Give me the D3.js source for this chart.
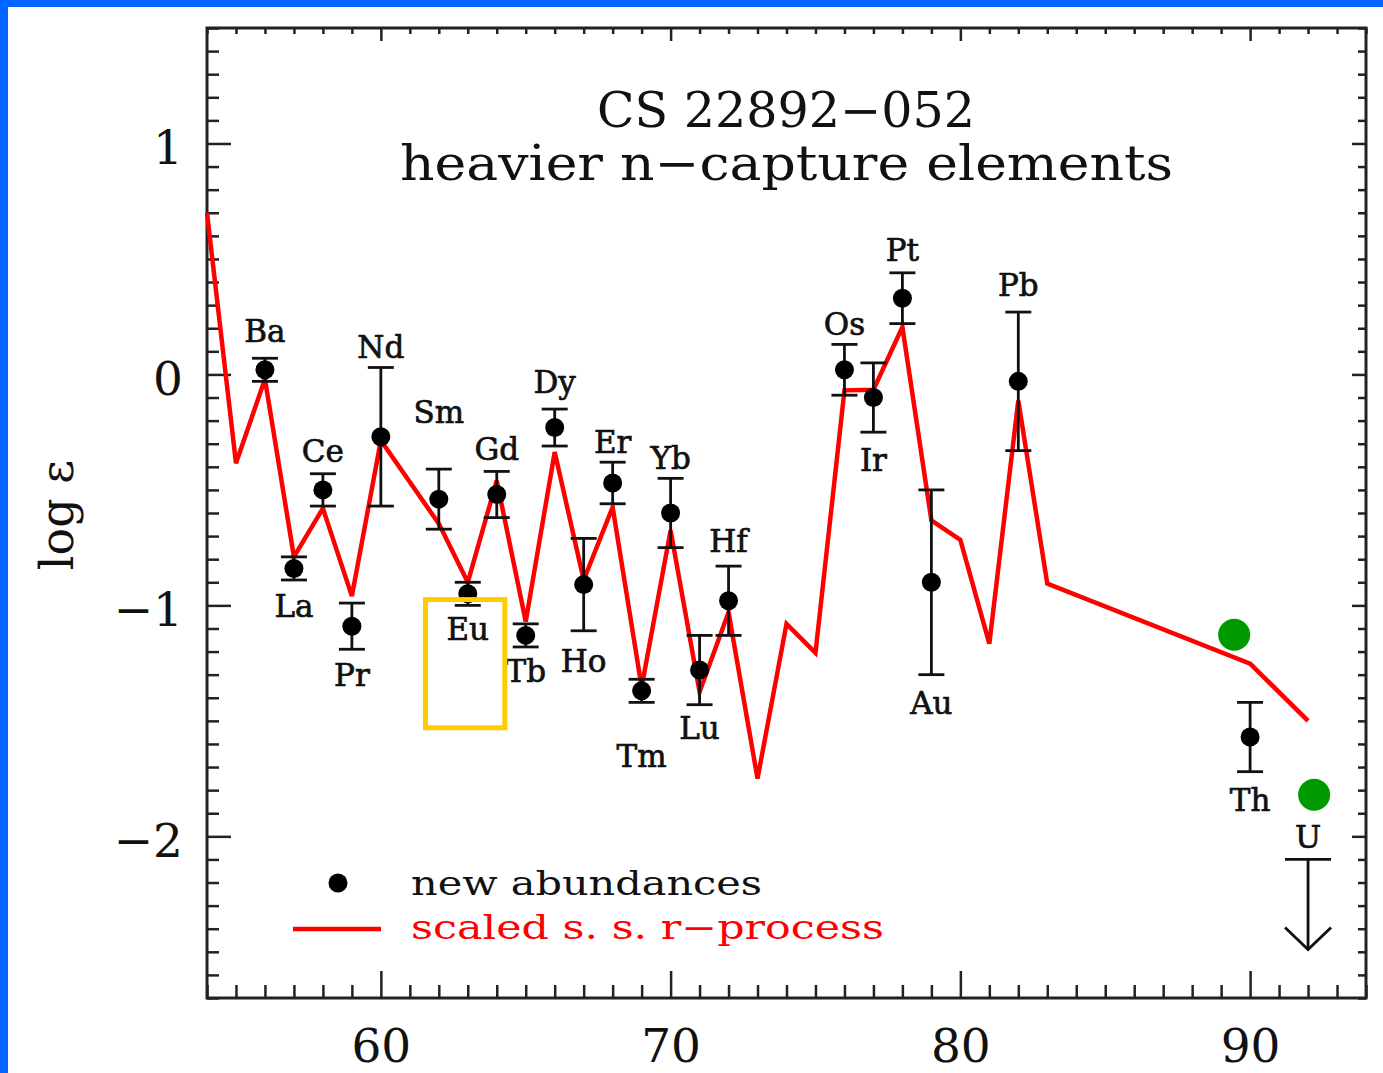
<!DOCTYPE html>
<html>
  <meta charset="utf-8">
  <head>
    <title>CS 22892-052 heavier n-capture elements</title>
  </head>
  <style>
    body { margin: 0; background: #fff; }
    svg { display: block; }
    .tick line { stroke: #222; stroke-width: 2.5; }
    .tick text { font-family: "DejaVu Serif", serif; fill: #111; }
    .frame { fill: none; stroke: #222; stroke-width: 3; }
    .elab { font-family: "DejaVu Serif", serif; font-size: 31px; fill: #111; stroke: #111; stroke-width: 0.7; text-anchor: middle; }
    .err { stroke: #111; stroke-width: 2.8; fill: none; }
  </style>
  <script src="https://d3js.org/d3.v7.min.js"></script>
  <body>
    <svg width="1383" height="1073"></svg>
    <script>
      // measured abundances (atomic number, log eps, error)
      var elemNames = ["Ba","La","Ce","Pr","Nd","Sm","Eu","Gd","Tb","Dy","Ho","Er","Tm","Yb","Lu","Hf","Os","Ir","Pt","Au","Pb","Th"];
      var elemZ     = [56, 57, 58, 59, 60, 62, 63, 64, 65, 66, 67, 68, 69, 70, 71, 72, 76, 77, 78, 79, 82, 90];
      var abund     = [0.02, -0.84, -0.50, -1.09, -0.27, -0.54, -0.95, -0.52, -1.13, -0.23, -0.91, -0.47, -1.37, -0.60, -1.28, -0.98, 0.02, -0.10, 0.33, -0.90, -0.03, -1.57];
      var abundErr  = [0.05, 0.05, 0.07, 0.10, 0.30, 0.13, 0.05, 0.10, 0.05, 0.08, 0.20, 0.09, 0.05, 0.15, 0.15, 0.15, 0.11, 0.15, 0.11, 0.40, 0.30, 0.15];
      // where each element name sits (log eps of the baseline)
      var labelAt   = [0.14, -1.05, -0.38, -1.35, 0.07, -0.21, -1.15, -0.37, -1.33, -0.08, -1.29, -0.34, -1.70, -0.41, -1.58, -0.77, 0.17, -0.42, 0.49, -1.47, 0.34, -1.89];

      // uranium upper limit
      var limName = ["U"];
      var limZ    = [92];
      var limV    = [-2.10];
      var limLabelAt = [-2.05];
      var limDrop = 0.39;

      // scaled solar-system r-process curve
      var rprocZ = [54, 55, 56, 57, 58, 59, 60, 62, 63, 64, 65, 66, 67, 68, 69, 70, 71, 72, 73, 74, 75, 76, 77, 78, 79, 80, 81, 82, 83, 90, 92];
      var rprocV = [0.70, -0.385, -0.02, -0.79, -0.58, -0.96, -0.286, -0.646, -0.90, -0.46, -1.07, -0.336, -0.89, -0.575, -1.354, -0.675, -1.375, -1.03, -1.75, -1.08, -1.206, -0.069, -0.066, 0.205, -0.632, -0.716, -1.166, -0.113, -0.906, -1.252, -1.50];

      // green markers and highlight box added on top
      var greenZ = [89.45, 92.21];
      var greenV = [-1.127, -1.82];
      var boxZ = [61.54, 64.28];
      var boxV = [-0.975, -1.53];

      var xMajor = [60, 70, 80, 90];
      var yMajor = [1, 0, -1, -2];

      var svg = d3.select("svg");

      // blue frame of the slide
      svg.append("rect").attr("x", 0).attr("y", 0).attr("width", 8).attr("height", 1073).attr("fill", "#0066ff");
      svg.append("rect").attr("x", 0).attr("y", 0).attr("width", 1383).attr("height", 7).attr("fill", "#0066ff");

      var x = d3.scaleLinear().domain([54, 94]).range([207, 1366]);
      var y = d3.scaleLinear().domain([-2.7, 1.5]).range([998, 28]);

      var xMinor = d3.range(54, 95).filter(function(d) { return xMajor.indexOf(d) < 0; });
      var yMinor = d3.range(-27, 16).map(function(d) { return d / 10; })
                     .filter(function(d) { return yMajor.indexOf(Math.round(d * 10) / 10) < 0; });

      function ticks(axis, vals, size, tx, ty) {
        var g = svg.append("g").attr("transform", "translate(" + tx + "," + ty + ")")
          .call(axis.tickValues(vals).tickSize(-size).tickSizeOuter(0).tickFormat(""));
        g.select(".domain").remove();
        return g;
      }

      // bottom
      ticks(d3.axisBottom(x), xMinor, 13, 0, 998);
      var gb = svg.append("g").attr("transform", "translate(0,998)")
        .call(d3.axisBottom(x).tickValues(xMajor).tickSize(-27).tickSizeOuter(0).tickPadding(31).tickFormat(d3.format("d")));
      gb.select(".domain").remove();
      gb.selectAll("text").attr("font-size", 47);
      // top
      ticks(d3.axisTop(x), xMinor, 6, 0, 28);
      ticks(d3.axisTop(x), xMajor, 13, 0, 28);
      // left
      ticks(d3.axisLeft(y), yMinor, 12, 207, 0);
      var gl = svg.append("g").attr("transform", "translate(207,0)")
        .call(d3.axisLeft(y).tickValues(yMajor).tickSize(-24).tickSizeOuter(0).tickPadding(24).tickFormat(d3.format("d")));
      gl.select(".domain").remove();
      gl.selectAll("text").attr("font-size", 47).attr("dy", "0.42em");
      // right
      ticks(d3.axisRight(y), yMinor, 8, 1366, 0);
      ticks(d3.axisRight(y), yMajor, 14, 1366, 0);

      svg.append("rect").attr("class", "frame")
        .attr("x", 207).attr("y", 28).attr("width", 1366 - 207).attr("height", 998 - 28);

      // axis title
      svg.append("text")
        .attr("transform", "translate(73,515) rotate(-90)")
        .attr("text-anchor", "middle")
        .attr("font-family", "DejaVu Serif, serif")
        .attr("font-size", 46)
        .attr("fill", "#111")
        .text("log \u03b5");

      // plot title
      svg.append("text").attr("x", 597).attr("y", 127)
        .attr("font-family", "DejaVu Serif, serif").attr("font-size", 48).attr("fill", "#111")
        .attr("textLength", 378).attr("lengthAdjust", "spacingAndGlyphs")
        .text("CS 22892\u2212052");
      svg.append("text").attr("x", 400).attr("y", 180)
        .attr("font-family", "DejaVu Serif, serif").attr("font-size", 48).attr("fill", "#111")
        .attr("textLength", 773).attr("lengthAdjust", "spacingAndGlyphs")
        .text("heavier n\u2212capture elements");

      // r-process curve
      var line = d3.line()
        .x(function(d, i) { return x(rprocZ[i]); })
        .y(function(d) { return y(d); });
      svg.append("path").datum(rprocV)
        .attr("d", line)
        .attr("fill", "none")
        .attr("stroke", "#ff0000")
        .attr("stroke-width", 4.5)
        .attr("stroke-linejoin", "miter");

      // error bars
      var pts = elemZ.map(function(z, i) {
        return { z: z, v: abund[i], e: abundErr[i], name: elemNames[i], lab: labelAt[i] };
      });
      var cap = 13;
      var eb = svg.append("g").attr("class", "err");
      pts.forEach(function(d) {
        var cx = x(d.z), top = y(d.v + d.e), bot = y(d.v - d.e);
        eb.append("line").attr("x1", cx).attr("x2", cx).attr("y1", top).attr("y2", bot);
        eb.append("line").attr("x1", cx - cap).attr("x2", cx + cap).attr("y1", top).attr("y2", top);
        eb.append("line").attr("x1", cx - cap).attr("x2", cx + cap).attr("y1", bot).attr("y2", bot);
      });

      svg.append("g").selectAll("circle")
        .data(pts).enter().append("circle")
          .attr("cx", function(d) { return x(d.z); })
          .attr("cy", function(d) { return y(d.v); })
          .attr("r", 9.5)
          .attr("fill", "#000");

      svg.append("g").selectAll("text")
        .data(pts).enter().append("text")
          .attr("class", "elab")
          .attr("x", function(d) { return x(d.z); })
          .attr("y", function(d) { return y(d.lab); })
          .text(function(d) { return d.name; });

      // upper limit for U
      limZ.forEach(function(z, i) {
        var cx = x(z), top = y(limV[i]), bot = y(limV[i] - limDrop);
        eb.append("line").attr("x1", cx - 23).attr("x2", cx + 23).attr("y1", top).attr("y2", top);
        eb.append("line").attr("x1", cx).attr("x2", cx).attr("y1", top).attr("y2", bot);
        eb.append("path").attr("d", "M" + (cx - 23) + "," + (bot - 22) + "L" + cx + "," + bot + "L" + (cx + 23) + "," + (bot - 22));
        svg.append("text").attr("class", "elab")
          .attr("x", cx).attr("y", y(limLabelAt[i]))
          .text(limName[i]);
      });

      // legend
      svg.append("circle").attr("cx", 338).attr("cy", 883).attr("r", 9.5).attr("fill", "#000");
      svg.append("line").attr("x1", 293).attr("x2", 381).attr("y1", 929).attr("y2", 929)
        .attr("stroke", "#ff0000").attr("stroke-width", 4.5);
      svg.append("text").attr("x", 411).attr("y", 895)
        .attr("font-family", "DejaVu Serif, serif").attr("font-size", 33).attr("fill", "#111")
        .attr("textLength", 351).attr("lengthAdjust", "spacingAndGlyphs")
        .text("new abundances");
      svg.append("text").attr("x", 411).attr("y", 939)
        .attr("font-family", "DejaVu Serif, serif").attr("font-size", 33).attr("fill", "#ff0000")
        .attr("textLength", 473).attr("lengthAdjust", "spacingAndGlyphs")
        .text("scaled s. s. r\u2212process");

      // highlight box
      svg.append("rect")
        .attr("x", x(boxZ[0])).attr("y", y(boxV[0]))
        .attr("width", x(boxZ[1]) - x(boxZ[0]))
        .attr("height", y(boxV[1]) - y(boxV[0]))
        .attr("fill", "none").attr("stroke", "#ffcc00").attr("stroke-width", 5);

      // green markers
      svg.append("g").selectAll("circle")
        .data(greenZ).enter().append("circle")
          .attr("cx", function(d) { return x(d); })
          .attr("cy", function(d, i) { return y(greenV[i]); })
          .attr("r", 16)
          .attr("fill", "#009a00");
    </script>
  </body>
</html>
